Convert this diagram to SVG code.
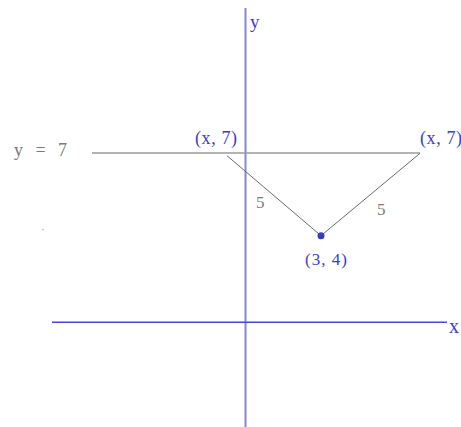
<svg xmlns="http://www.w3.org/2000/svg" width="461" height="427" viewBox="0 0 461 427">
<style>
.lbl{font-family:"Liberation Serif","Times New Roman",serif;fill:#3c3cd2}
.gry{font-family:"Liberation Serif","Times New Roman",serif;fill:#7a7a7a}
</style>
<rect width="461" height="427" fill="#ffffff"/>
<g id="axes">
<line x1="245.5" y1="8" x2="245.5" y2="427" stroke="#8585e6" stroke-width="2"/>
<line x1="52" y1="322.3" x2="447" y2="322.3" stroke="#4646de" stroke-width="1.6"/>
<text class="lbl" x="250" y="28" font-size="19">y</text>
<text class="lbl" x="449" y="333" font-size="20">x</text>
</g>
<g id="line-y7">
<line x1="92" y1="153" x2="420" y2="153" stroke="#9a9a9a" stroke-width="1.5"/>
<text class="gry" x="14" y="156" font-size="18" textLength="53" lengthAdjust="spacing">y = 7</text>
</g>
<g id="connectors">
<line x1="227" y1="155.7" x2="321" y2="235.7" stroke="#6a6a6a" stroke-width="1"/>
<line x1="420" y1="153.3" x2="321" y2="235.7" stroke="#6a6a6a" stroke-width="1"/>
<text class="gry" x="256" y="208" font-size="17">5</text>
<text class="gry" x="377" y="215" font-size="17">5</text>
</g>
<g id="point-left">
<text class="lbl" x="195" y="144" font-size="18" textLength="42" lengthAdjust="spacing">(x, 7)</text>
</g>
<g id="point-right">
<text class="lbl" x="420" y="144" font-size="18" textLength="42" lengthAdjust="spacing">(x, 7)</text>
</g>
<g id="point-center">
<circle cx="321" cy="235.7" r="3.5" fill="#3a3ac8"/>
<text class="lbl" x="305" y="265" font-size="17" textLength="42" lengthAdjust="spacing">(3, 4)</text>
</g>
<circle cx="43" cy="229.5" r="0.7" fill="#999"/>
</svg>
